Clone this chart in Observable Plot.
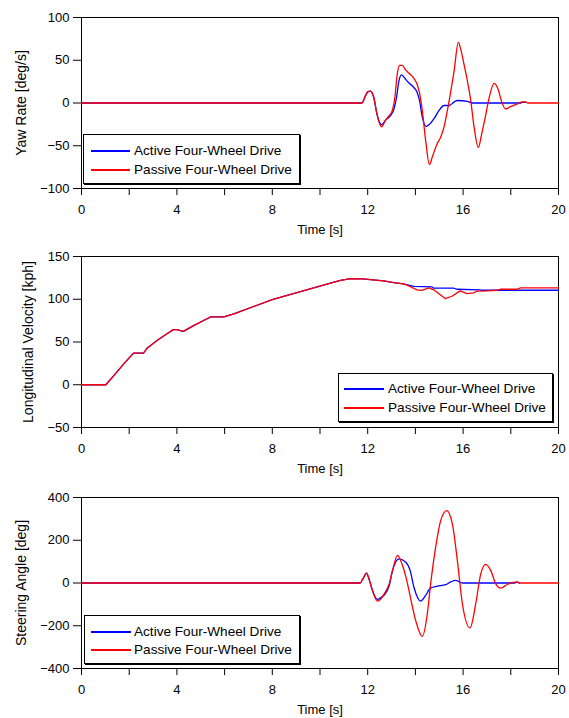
<!DOCTYPE html>
<html>
<head>
<meta charset="utf-8">
<script src="https://cdn.jsdelivr.net/npm/d3@7"></script>
<script src="https://cdn.jsdelivr.net/npm/@observablehq/plot@0.6"></script>
<style>
  html, body { margin: 0; padding: 0; background: #fff; }
  #chart { width: 569px; font-family: "Liberation Sans", Arial, sans-serif; }
  .panel { position: relative; width: 569px; }
  .panel svg { display: block; }
  .legend { position: absolute; background: #fff; border: 1px solid #000; box-shadow: 1px 1px 0 #000; box-sizing: border-box; }
  .legend .row { position: absolute; left: 0; height: 0; }
  .legend .swatch { position: absolute; height: 1.5px; top: -1px; }
  .legend .txt { position: absolute; white-space: nowrap; font-size: 13.6px; line-height: 16px; top: -8px; color: #000; }
</style>
</head>
<body>
<div id="chart"></div>
<script>
// ---- Series names / colours ----
const seriesNames = ["Active Four-Wheel Drive", "Passive Four-Wheel Drive"];
const seriesColors = ["#0000ff", "#ff0000"];

// ---- Axis ticks ----
const xTicks = [0, 2, 4, 6, 8, 10, 12, 14, 16, 18, 20];
const xTickLabels = [0, 4, 8, 12, 16, 20];
const yawTicks = [-100, -50, 0, 50, 100];
const velTicks = [-50, 0, 50, 100, 150];
const steerTicks = [-400, -200, 0, 200, 400];

// ---- Yaw rate [deg/s] : [time s, value] ----
const yawActive = [[0,0],[11.76,0],[11.9,8],[12.0,13],[12.11,14],[12.25,7],[12.39,-13],[12.5,-23],[12.58,-25.4],[12.75,-20],[12.96,-14.6],[13.1,-7],[13.21,6.8],[13.31,26],[13.42,32.8],[13.58,28],[13.72,23.6],[13.93,18.4],[14.07,12.6],[14.17,3],[14.29,-16.5],[14.45,-27.4],[14.59,-25],[14.78,-18.4],[14.99,-8.7],[15.2,-2.9],[15.41,-2.9],[15.62,1],[15.76,2.9],[16.18,2],[16.39,0],[18.4,0],[18.5,1],[18.6,0.8]];
const yawPassive = [[0,0],[11.76,0],[11.9,8],[12.0,13],[12.11,14],[12.25,7],[12.39,-13],[12.5,-24],[12.58,-28],[12.75,-20],[12.89,-15],[13.03,-9],[13.14,7],[13.24,34],[13.34,44],[13.45,44],[13.58,39],[13.72,35],[13.93,29],[14.07,22],[14.17,12],[14.29,-9],[14.43,-44],[14.59,-72],[14.71,-63],[14.92,-47],[15.06,-40],[15.2,-28],[15.34,-9],[15.48,13],[15.62,37],[15.8,71],[15.9,63],[16.04,45],[16.18,26],[16.32,3],[16.46,-28],[16.64,-52],[16.78,-36],[16.92,-18],[17.09,6],[17.3,23],[17.48,15],[17.62,1],[17.79,-7],[18.0,-4],[18.28,-1],[18.49,1.4],[18.63,1.4],[18.7,0],[20,0]];

// ---- Longitudinal velocity [kph] ----
const velActive = [[0,0],[1.02,0],[1.3,9],[1.79,25],[2.18,37],[2.6,37],[2.76,43],[3.18,52],[3.6,60],[3.85,64.5],[3.99,64.5],[4.27,62.5],[4.72,69.5],[5.14,75.4],[5.42,79.3],[5.97,79.3],[6.39,83],[8,99.5],[9.88,114.5],[10.44,119],[10.86,122],[11.28,124],[11.7,124.2],[12.11,123],[12.67,121.5],[13.09,119.5],[13.5,118],[13.93,115],[14.7,114.5],[14.75,113],[15.6,113],[15.74,111.7],[16.7,111],[16.8,110.5],[20,110.5]];
const velPassive = [[0,0],[1.02,0],[1.3,9],[1.79,25],[2.18,37],[2.6,37],[2.76,43],[3.18,52],[3.6,60],[3.85,64.5],[3.99,64.5],[4.27,62.5],[4.72,69.5],[5.14,75.4],[5.42,79.3],[5.97,79.3],[6.39,83],[8,99.5],[9.88,114.5],[10.44,119],[10.86,122],[11.28,124],[11.7,124.2],[12.11,123],[12.67,121.5],[13.09,119.5],[13.5,118],[13.65,116.4],[14.07,111],[14.28,110.5],[14.56,113.3],[14.77,111],[15.25,100.8],[15.53,103.5],[15.88,109.8],[16.16,106.6],[16.44,107.4],[16.58,109.4],[17.0,109.8],[17.42,110.5],[17.56,111.7],[18.26,111.7],[18.4,113.3],[20,113.3]];

// ---- Steering angle [deg] ----
const steerActive = [[0,0],[11.68,0],[11.8,20],[11.95,46],[12.08,10],[12.2,-35],[12.41,-77],[12.55,-68],[12.69,-57],[12.9,-13],[13.04,58],[13.31,113],[13.6,97],[13.78,58],[13.94,-20],[14.22,-85],[14.43,-58],[14.64,-23],[14.92,-15],[15.27,-8],[15.48,5],[15.69,12],[15.97,0],[18.15,0],[18.27,4],[18.35,0]];
const steerPassive = [[0,0],[11.68,0],[11.8,20],[11.95,46],[12.08,10],[12.2,-35],[12.41,-85],[12.55,-75],[12.69,-51],[12.9,-4],[13.04,58],[13.25,129],[13.46,82],[13.6,30],[13.73,-35],[14.01,-175],[14.29,-250],[14.5,-144],[14.64,-3],[14.85,168],[15.06,292],[15.31,339],[15.55,277],[15.76,105],[15.97,-97],[16.29,-210],[16.53,-97],[16.74,43],[16.95,87],[17.16,58],[17.37,-4],[17.58,-24],[17.85,-7],[18.1,3],[18.27,5],[18.35,0],[20,0]];

const panels = [
  {series: [yawActive, yawPassive], height: 240, mt: 17, mb: 52, domain: [-100, 100], ticks: yawTicks,
   label: "Yaw Rate [deg/s]", labelX: 21, curve: "monotone-x",
   legend: {left: 83, top: 134, width: 217, height: 50, lineX: 7, lineW: 39, textX: 50, rowY: [16, 35]}},
  {series: [velActive, velPassive], height: 240, mt: 16, mb: 53, domain: [-50, 150], ticks: velTicks,
   label: "Longitudinal Velocity [kph]", labelX: 28, curve: "linear",
   legend: {left: 338, top: 133, width: 215, height: 49, lineX: 5, lineW: 40, textX: 49, rowY: [15, 34]}},
  {series: [steerActive, steerPassive], height: 238, mt: 17, mb: 50, domain: [-400, 400], ticks: steerTicks,
   label: "Steering Angle [deg]", labelX: 21, curve: "monotone-x",
   legend: {left: 84, top: 135, width: 216, height: 49, lineX: 6, lineW: 40, textX: 49, rowY: [16, 34]}}
];

const root = document.getElementById("chart");

for (const p of panels) {
  const marks = [
    Plot.frame({stroke: "#000", strokeWidth: 1}),
    Plot.axisX({ticks: xTicks, tickFormat: d => xTickLabels.includes(d) ? String(d) : "", tickSize: 7, tickPadding: 9, label: null}),
    Plot.axisY({ticks: p.ticks, tickSize: 8, tickPadding: 4, label: null}),
    Plot.text(["Time [s]"], {frameAnchor: "bottom", dy: 41, lineAnchor: "middle", fontSize: 13, fill: "#000"}),
    Plot.text([p.label], {frameAnchor: "left", dx: p.labelX - 81, rotate: -90, lineAnchor: "middle", textAnchor: "middle", fontSize: 14, fill: "#000"})
  ];
  p.series.forEach((s, i) => {
    marks.push(Plot.line(s, {x: d => d[0], y: d => d[1], stroke: seriesColors[i], strokeWidth: 1.3, curve: p.curve}));
  });
  const svg = Plot.plot({
    width: 569, height: p.height,
    marginTop: p.mt, marginBottom: p.mb, marginLeft: 81, marginRight: 11,
    x: {domain: [0, 20]},
    y: {domain: p.domain},
    style: {fontFamily: "'Liberation Sans', Arial, sans-serif", fontSize: "13px", color: "#000", background: "#fff", overflow: "visible"},
    marks
  });
  const wrap = document.createElement("div");
  wrap.className = "panel";
  wrap.style.height = p.height + "px";
  wrap.appendChild(svg);

  const lg = document.createElement("div");
  lg.className = "legend";
  Object.assign(lg.style, {left: p.legend.left + "px", top: p.legend.top + "px", width: p.legend.width + "px", height: p.legend.height + "px"});
  seriesNames.forEach((name, i) => {
    const row = document.createElement("div");
    row.className = "row";
    row.style.top = p.legend.rowY[i] + "px";
    const sw = document.createElement("div");
    sw.className = "swatch";
    Object.assign(sw.style, {left: p.legend.lineX + "px", width: p.legend.lineW + "px", backgroundColor: seriesColors[i]});
    const tx = document.createElement("div");
    tx.className = "txt";
    tx.style.left = p.legend.textX + "px";
    tx.textContent = name;
    row.appendChild(sw);
    row.appendChild(tx);
    lg.appendChild(row);
  });
  wrap.appendChild(lg);
  root.appendChild(wrap);
}
</script>
</body>
</html>
